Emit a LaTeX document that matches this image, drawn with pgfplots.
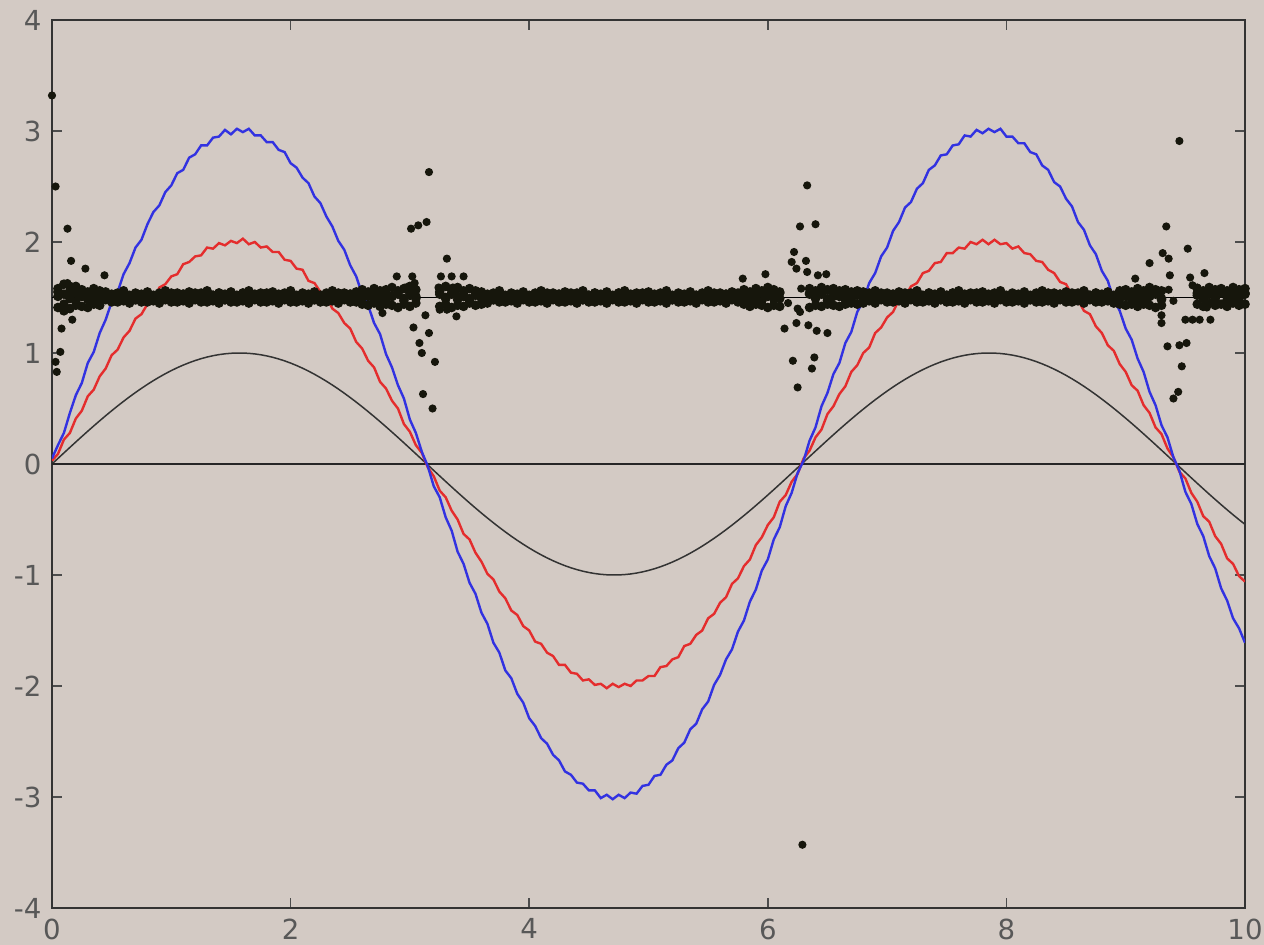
\documentclass[border=0pt]{standalone}
\usepackage{fontspec}
\setmainfont{DejaVu Sans}
\usepackage{pgfplots}
\pgfplotsset{compat=1.18}
\usepackage{pgfplotstable}
\definecolor{bg}{RGB}{211,202,196}
\definecolor{tickgray}{RGB}{88,88,88}
\definecolor{cred}{RGB}{228,45,45}
\definecolor{cblue}{RGB}{50,50,225}
\definecolor{dots}{RGB}{22,22,12}

\pgfplotstableread{
x s r b
0.00 0.0000 0.03 0.05
0.05 0.0500 0.09 0.17
0.10 0.0998 0.22 0.28
0.15 0.1494 0.28 0.46
0.20 0.1987 0.41 0.62
0.25 0.2474 0.48 0.73
0.30 0.2955 0.61 0.91
0.35 0.3429 0.67 1.01
0.40 0.3894 0.79 1.18
0.45 0.4350 0.86 1.30
0.50 0.4794 0.98 1.46
0.55 0.5227 1.03 1.55
0.60 0.5646 1.14 1.71
0.65 0.6052 1.20 1.81
0.70 0.6442 1.31 1.95
0.75 0.6816 1.35 2.02
0.80 0.7174 1.44 2.16
0.85 0.7513 1.48 2.27
0.90 0.7833 1.59 2.33
0.95 0.8134 1.62 2.45
1.00 0.8415 1.69 2.51
1.05 0.8674 1.71 2.62
1.10 0.8912 1.80 2.65
1.15 0.9128 1.82 2.76
1.20 0.9320 1.87 2.79
1.25 0.9490 1.88 2.87
1.30 0.9636 1.95 2.87
1.35 0.9757 1.94 2.94
1.40 0.9854 1.99 2.95
1.45 0.9927 1.97 3.01
1.50 0.9975 2.01 2.97
1.55 0.9998 1.99 3.02
1.60 0.9996 2.03 2.99
1.65 0.9969 1.98 3.02
1.70 0.9917 2.00 2.96
1.75 0.9840 1.95 2.96
1.80 0.9738 1.96 2.90
1.85 0.9613 1.91 2.90
1.90 0.9463 1.91 2.83
1.95 0.9290 1.84 2.81
2.00 0.9093 1.83 2.71
2.05 0.8874 1.76 2.67
2.10 0.8632 1.75 2.58
2.15 0.8369 1.65 2.53
2.20 0.8085 1.63 2.41
2.25 0.7781 1.55 2.35
2.30 0.7457 1.51 2.23
2.35 0.7115 1.40 2.14
2.40 0.6755 1.36 2.01
2.45 0.6378 1.27 1.93
2.50 0.5985 1.22 1.79
2.55 0.5577 1.10 1.69
2.60 0.5155 1.04 1.53
2.65 0.4720 0.93 1.43
2.70 0.4274 0.87 1.27
2.75 0.3817 0.74 1.17
2.80 0.3350 0.68 0.99
2.85 0.2875 0.57 0.87
2.90 0.2392 0.50 0.71
2.95 0.1904 0.36 0.59
3.00 0.1411 0.29 0.40
3.05 0.0915 0.17 0.28
3.10 0.0416 0.10 0.11
3.15 -0.0084 -0.03 -0.02
3.20 -0.0584 -0.11 -0.20
3.25 -0.1082 -0.24 -0.30
3.30 -0.1577 -0.30 -0.48
3.35 -0.2069 -0.42 -0.60
3.40 -0.2555 -0.50 -0.79
3.45 -0.3035 -0.63 -0.90
3.50 -0.3508 -0.68 -1.07
3.55 -0.3971 -0.80 -1.17
3.60 -0.4425 -0.88 -1.34
3.65 -0.4868 -0.99 -1.44
3.70 -0.5298 -1.04 -1.61
3.75 -0.5716 -1.15 -1.70
3.80 -0.6119 -1.21 -1.86
3.85 -0.6507 -1.32 -1.93
3.90 -0.6878 -1.36 -2.07
3.95 -0.7232 -1.46 -2.15
4.00 -0.7568 -1.50 -2.29
4.05 -0.7885 -1.60 -2.36
4.10 -0.8183 -1.62 -2.47
4.15 -0.8460 -1.70 -2.52
4.20 -0.8716 -1.73 -2.62
4.25 -0.8950 -1.81 -2.67
4.30 -0.9162 -1.81 -2.77
4.35 -0.9351 -1.88 -2.80
4.40 -0.9516 -1.89 -2.87
4.45 -0.9658 -1.95 -2.88
4.50 -0.9775 -1.94 -2.94
4.55 -0.9868 -1.99 -2.94
4.60 -0.9937 -1.98 -3.01
4.65 -0.9980 -2.02 -2.98
4.70 -0.9999 -1.98 -3.02
4.75 -0.9993 -2.01 -2.98
4.80 -0.9962 -1.98 -3.01
4.85 -0.9906 -2.00 -2.96
4.90 -0.9825 -1.95 -2.97
4.95 -0.9719 -1.95 -2.90
5.00 -0.9589 -1.91 -2.89
5.05 -0.9435 -1.91 -2.81
5.10 -0.9258 -1.83 -2.80
5.15 -0.9058 -1.82 -2.71
5.20 -0.8835 -1.76 -2.67
5.25 -0.8590 -1.74 -2.56
5.30 -0.8323 -1.64 -2.51
5.35 -0.8036 -1.62 -2.39
5.40 -0.7728 -1.54 -2.34
5.45 -0.7401 -1.50 -2.21
5.50 -0.7055 -1.39 -2.14
5.55 -0.6692 -1.35 -1.99
5.60 -0.6313 -1.25 -1.90
5.65 -0.5917 -1.20 -1.76
5.70 -0.5507 -1.08 -1.67
5.75 -0.5083 -1.03 -1.51
5.80 -0.4646 -0.92 -1.41
5.85 -0.4198 -0.86 -1.24
5.90 -0.3739 -0.73 -1.13
5.95 -0.3271 -0.66 -0.96
6.00 -0.2794 -0.55 -0.86
6.05 -0.2311 -0.48 -0.68
6.10 -0.1822 -0.34 -0.57
6.15 -0.1328 -0.28 -0.38
6.20 -0.0831 -0.16 -0.26
6.25 -0.0332 -0.09 -0.08
6.30 0.0168 0.05 0.03
6.35 0.0667 0.12 0.21
6.40 0.1165 0.24 0.33
6.45 0.1660 0.31 0.52
6.50 0.2151 0.45 0.64
6.55 0.2636 0.52 0.81
6.60 0.3115 0.63 0.91
6.65 0.3586 0.70 1.09
6.70 0.4048 0.83 1.19
6.75 0.4500 0.89 1.37
6.80 0.4941 1.00 1.47
6.85 0.5369 1.05 1.63
6.90 0.5784 1.18 1.72
6.95 0.6185 1.23 1.87
7.00 0.6570 1.32 1.95
7.05 0.6939 1.37 2.10
7.10 0.7290 1.48 2.18
7.15 0.7623 1.51 2.31
7.20 0.7937 1.60 2.36
7.25 0.8231 1.63 2.48
7.30 0.8504 1.72 2.53
7.35 0.8756 1.74 2.65
7.40 0.8987 1.81 2.69
7.45 0.9195 1.82 2.78
7.50 0.9380 1.90 2.79
7.55 0.9541 1.90 2.87
7.60 0.9679 1.95 2.88
7.65 0.9793 1.94 2.96
7.70 0.9882 2.00 2.95
7.75 0.9946 1.98 3.01
7.80 0.9985 2.02 2.98
7.85 0.9999 1.98 3.02
7.90 0.9989 2.02 2.99
7.95 0.9954 1.98 3.02
8.00 0.9894 1.99 2.95
8.05 0.9809 1.94 2.95
8.10 0.9699 1.96 2.89
8.15 0.9565 1.90 2.89
8.20 0.9407 1.89 2.81
8.25 0.9226 1.83 2.79
8.30 0.9022 1.82 2.69
8.35 0.8795 1.75 2.65
8.40 0.8546 1.72 2.54
8.45 0.8276 1.64 2.50
8.50 0.7985 1.62 2.39
8.55 0.7674 1.52 2.32
8.60 0.7344 1.48 2.18
8.65 0.6996 1.38 2.11
8.70 0.6630 1.35 1.97
8.75 0.6247 1.24 1.89
8.80 0.5849 1.18 1.74
8.85 0.5436 1.07 1.65
8.90 0.5010 1.02 1.48
8.95 0.4571 0.90 1.38
9.00 0.4121 0.83 1.22
9.05 0.3661 0.71 1.12
9.10 0.3191 0.66 0.95
9.15 0.2713 0.53 0.83
9.20 0.2229 0.46 0.65
9.25 0.1739 0.33 0.53
9.30 0.1245 0.27 0.35
9.35 0.0747 0.14 0.24
9.40 0.0248 0.06 0.06
9.45 -0.0252 -0.07 -0.06
9.50 -0.0752 -0.13 -0.25
9.55 -0.1249 -0.26 -0.36
9.60 -0.1743 -0.34 -0.54
9.65 -0.2233 -0.47 -0.65
9.70 -0.2718 -0.52 -0.83
9.75 -0.3195 -0.65 -0.94
9.80 -0.3665 -0.72 -1.12
9.85 -0.4125 -0.85 -1.23
9.90 -0.4575 -0.90 -1.39
9.95 -0.5014 -1.01 -1.48
10.00 -0.5440 -1.06 -1.61
}\curves

\pgfplotstableread{
x a b c d
0.05 1.58 1.41 1.55 1.51
0.10 1.62 1.44 1.38 1.53
0.15 1.56 1.40 1.60 1.49
0.20 1.60 1.43 1.47 1.54
0.25 1.57 1.42 1.52 1.51
0.30 1.55 1.41 1.48 1.53
0.35 1.58 1.44 1.51 1.49
0.40 1.56 1.43 1.49 1.54
0.45 1.55 1.48 1.52 1.51
0.50 1.52 1.46 1.50 1.53
0.55 1.54 1.46 1.48 1.49
0.60 1.56 1.47 1.52 1.54
0.65 1.52 1.45 1.50 1.51
0.70 1.54 1.48 1.48 1.53
0.75 1.53 1.46 1.52 1.49
0.80 1.55 1.46 1.50 1.54
0.85 1.52 1.47 1.48 1.51
0.90 1.54 1.45 1.52 1.53
0.95 1.56 1.48 1.50 1.49
1.00 1.52 1.46 1.48 1.54
1.05 1.54 1.46 1.52 1.51
1.10 1.53 1.47 1.50 1.53
1.15 1.55 1.45 1.48 1.49
1.20 1.52 1.48 1.52 1.54
1.25 1.54 1.46 1.50 1.51
1.30 1.56 1.46 1.48 1.53
1.35 1.52 1.47 1.52 1.49
1.40 1.54 1.45 1.50 1.54
1.45 1.53 1.48 1.48 1.51
1.50 1.55 1.46 1.52 1.53
1.55 1.52 1.46 1.50 1.49
1.60 1.54 1.47 1.48 1.54
1.65 1.56 1.45 1.52 1.51
1.70 1.52 1.48 1.50 1.53
1.75 1.54 1.46 1.48 1.49
1.80 1.53 1.46 1.52 1.54
1.85 1.55 1.47 1.50 1.51
1.90 1.52 1.45 1.48 1.53
1.95 1.54 1.48 1.52 1.49
2.00 1.56 1.46 1.50 1.54
2.05 1.52 1.46 1.48 1.51
2.10 1.54 1.47 1.52 1.53
2.15 1.53 1.45 1.50 1.49
2.20 1.55 1.48 1.48 1.54
2.25 1.52 1.46 1.52 1.51
2.30 1.54 1.46 1.50 1.53
2.35 1.56 1.47 1.48 1.49
2.40 1.52 1.45 1.52 1.54
2.45 1.54 1.48 1.50 1.51
2.50 1.53 1.46 1.48 1.53
2.55 1.55 1.46 1.52 1.49
2.60 1.57 1.44 1.50 1.54
2.65 1.55 1.43 1.52 1.51
2.70 1.58 1.45 1.47 1.53
2.75 1.56 1.42 1.53 1.49
2.80 1.57 1.44 1.49 1.54
2.85 1.59 1.43 1.51 1.51
2.90 1.56 1.41 1.54 1.53
2.95 1.58 1.44 1.47 1.49
3.00 1.60 1.42 1.52 1.54
3.05 1.57 1.45 1.49 1.51
3.25 1.58 1.42 1.55 1.53
3.30 1.60 1.44 1.50 1.49
3.35 1.57 1.41 1.53 1.54
3.40 1.59 1.43 1.48 1.51
3.45 1.56 1.42 1.51 1.53
3.50 1.58 1.45 1.47 1.49
3.55 1.56 1.43 1.52 1.54
3.60 1.55 1.44 1.49 1.51
3.65 1.52 1.45 1.50 1.53
3.70 1.54 1.48 1.48 1.49
3.75 1.56 1.46 1.52 1.54
3.80 1.52 1.46 1.50 1.51
3.85 1.54 1.47 1.48 1.53
3.90 1.53 1.45 1.52 1.49
3.95 1.55 1.48 1.50 1.54
4.00 1.52 1.46 1.48 1.51
4.05 1.54 1.46 1.52 1.53
4.10 1.56 1.47 1.50 1.49
4.15 1.52 1.45 1.48 1.54
4.20 1.54 1.48 1.52 1.51
4.25 1.53 1.46 1.50 1.53
4.30 1.55 1.46 1.48 1.49
4.35 1.52 1.47 1.52 1.54
4.40 1.54 1.45 1.50 1.51
4.45 1.56 1.48 1.48 1.53
4.50 1.52 1.46 1.52 1.49
4.55 1.54 1.46 1.50 1.54
4.60 1.53 1.47 1.48 1.51
4.65 1.55 1.45 1.52 1.53
4.70 1.52 1.48 1.50 1.49
4.75 1.54 1.46 1.48 1.54
4.80 1.56 1.46 1.52 1.51
4.85 1.52 1.47 1.50 1.53
4.90 1.54 1.45 1.48 1.49
4.95 1.53 1.48 1.52 1.54
5.00 1.55 1.46 1.50 1.51
5.05 1.52 1.46 1.48 1.53
5.10 1.54 1.47 1.52 1.49
5.15 1.56 1.45 1.50 1.54
5.20 1.52 1.48 1.48 1.51
5.25 1.54 1.46 1.52 1.53
5.30 1.53 1.46 1.50 1.49
5.35 1.55 1.47 1.48 1.54
5.40 1.52 1.45 1.52 1.51
5.45 1.54 1.48 1.50 1.53
5.50 1.56 1.46 1.48 1.49
5.55 1.52 1.46 1.52 1.54
5.60 1.54 1.47 1.50 1.51
5.65 1.53 1.45 1.48 1.53
5.70 1.55 1.48 1.52 1.49
5.75 1.52 1.46 1.50 1.54
5.80 1.57 1.44 1.51 1.51
5.85 1.55 1.42 1.48 1.53
5.90 1.58 1.44 1.53 1.49
5.95 1.56 1.43 1.47 1.54
6.00 1.59 1.41 1.52 1.51
6.05 1.57 1.43 1.49 1.53
6.10 1.55 1.42 1.54 1.49
6.35 1.58 1.41 1.53 1.54
6.40 1.56 1.43 1.49 1.51
6.45 1.59 1.42 1.55 1.53
6.50 1.57 1.44 1.47 1.49
6.55 1.58 1.43 1.51 1.54
6.60 1.56 1.42 1.52 1.51
6.65 1.57 1.44 1.48 1.53
6.70 1.55 1.45 1.50 1.49
6.75 1.56 1.44 1.52 1.54
6.80 1.55 1.45 1.49 1.51
6.85 1.54 1.47 1.48 1.53
6.90 1.56 1.45 1.52 1.49
6.95 1.52 1.48 1.50 1.54
7.00 1.54 1.46 1.48 1.51
7.05 1.53 1.46 1.52 1.53
7.10 1.55 1.47 1.50 1.49
7.15 1.52 1.45 1.48 1.54
7.20 1.54 1.48 1.52 1.51
7.25 1.56 1.46 1.50 1.53
7.30 1.52 1.46 1.48 1.49
7.35 1.54 1.47 1.52 1.54
7.40 1.53 1.45 1.50 1.51
7.45 1.55 1.48 1.48 1.53
7.50 1.52 1.46 1.52 1.49
7.55 1.54 1.46 1.50 1.54
7.60 1.56 1.47 1.48 1.51
7.65 1.52 1.45 1.52 1.53
7.70 1.54 1.48 1.50 1.49
7.75 1.53 1.46 1.48 1.54
7.80 1.55 1.46 1.52 1.51
7.85 1.52 1.47 1.50 1.53
7.90 1.54 1.45 1.48 1.49
7.95 1.56 1.48 1.52 1.54
8.00 1.52 1.46 1.50 1.51
8.05 1.54 1.46 1.48 1.53
8.10 1.53 1.47 1.52 1.49
8.15 1.55 1.45 1.50 1.54
8.20 1.52 1.48 1.48 1.51
8.25 1.54 1.46 1.52 1.53
8.30 1.56 1.46 1.50 1.49
8.35 1.52 1.47 1.48 1.54
8.40 1.54 1.45 1.52 1.51
8.45 1.53 1.48 1.50 1.53
8.50 1.55 1.46 1.48 1.49
8.55 1.52 1.46 1.52 1.54
8.60 1.54 1.47 1.50 1.51
8.65 1.56 1.45 1.48 1.53
8.70 1.52 1.48 1.52 1.49
8.75 1.54 1.46 1.50 1.54
8.80 1.53 1.46 1.48 1.51
8.85 1.55 1.47 1.52 1.53
8.90 1.52 1.45 1.50 1.49
8.95 1.56 1.44 1.49 1.54
9.00 1.57 1.43 1.52 1.51
9.05 1.55 1.44 1.48 1.53
9.10 1.58 1.42 1.53 1.49
9.15 1.56 1.44 1.47 1.54
9.20 1.59 1.43 1.51 1.51
9.25 1.57 1.41 1.54 1.53
9.30 1.56 1.43 1.48 1.49
9.60 1.58 1.44 1.52 1.54
9.65 1.56 1.42 1.49 1.51
9.70 1.59 1.45 1.53 1.53
9.75 1.57 1.43 1.50 1.49
9.80 1.58 1.44 1.55 1.54
9.85 1.56 1.42 1.48 1.51
9.90 1.59 1.45 1.52 1.53
9.95 1.57 1.43 1.50 1.49
10.00 1.58 1.44 1.53 1.54
}\band

\pgfplotstableread{
x y
0.00 3.32
0.03 2.50
0.13 2.12
0.16 1.83
0.28 1.76
0.44 1.70
0.13 1.63
0.17 1.30
0.08 1.22
0.07 1.01
0.03 0.92
0.04 0.83
3.16 2.63
3.01 2.12
3.07 2.15
3.14 2.18
3.31 1.85
2.89 1.69
3.02 1.69
3.26 1.69
3.35 1.69
3.45 1.69
2.96 1.59
3.04 1.63
3.24 1.59
3.36 1.59
2.77 1.36
3.13 1.34
3.25 1.39
3.31 1.39
3.39 1.33
3.03 1.23
3.16 1.18
3.08 1.09
3.10 1.00
3.21 0.92
3.11 0.63
3.19 0.50
6.33 2.51
6.27 2.14
6.40 2.16
6.22 1.91
6.20 1.82
6.32 1.83
6.24 1.76
6.33 1.73
6.42 1.70
6.49 1.71
5.79 1.67
5.98 1.71
6.28 1.58
6.25 1.40
6.17 1.45
6.27 1.37
6.24 1.27
6.34 1.25
6.41 1.20
6.50 1.18
6.14 1.22
6.21 0.93
6.39 0.96
6.37 0.86
6.25 0.69
6.29 -3.43
9.45 2.91
9.34 2.14
9.52 1.94
9.31 1.90
9.36 1.85
9.20 1.81
9.66 1.72
9.08 1.67
9.37 1.70
9.54 1.68
9.56 1.61
9.60 1.59
9.22 1.55
9.36 1.57
9.40 1.47
9.68 1.41
9.30 1.34
9.30 1.27
9.50 1.30
9.56 1.30
9.62 1.30
9.71 1.30
9.35 1.06
9.45 1.07
9.51 1.09
9.47 0.88
9.44 0.65
9.40 0.59
}\outliers

\begin{document}
\begin{tikzpicture}
\fill[bg] (-17.33pt,-12.33pt) rectangle (404pt,302.67pt);
\useasboundingbox (-17.33pt,-12.33pt) rectangle (404pt,302.67pt);
\begin{axis}[
  at={(0pt,0pt)}, anchor=south west,
  scale only axis, width=397.67pt, height=296pt,
  xmin=0, xmax=10, ymin=-4, ymax=4,
  xtick={0,2,4,6,8,10}, ytick={-4,-3,-2,-1,0,1,2,3,4},
  axis background/.style={fill=bg},
  axis line style={draw=black!80, line width=0.7pt},
  tick style={draw=black!70, line width=0.5pt},
  major tick length=3.3pt,
  tick label style={font=\fontsize{9.2}{10}\selectfont, text=tickgray},
  /pgf/number format/assume math mode=true,
  clip=true,
]
\addplot[black!80, line width=0.5pt] table[x=x, y=s] {\curves};
\addplot[black!85, line width=0.7pt] coordinates {(0,0) (10,0)};
\addplot[black, line width=0.4pt] coordinates {(0,1.5) (10,1.5)};
\addplot[cred, line width=0.8pt] table[x=x, y=r] {\curves};
\addplot[cblue, line width=0.8pt] table[x=x, y=b] {\curves};
\addplot[only marks, mark=*, mark size=1.4pt, draw=dots, fill=dots] table[x=x, y=a] {\band};
\addplot[only marks, mark=*, mark size=1.4pt, draw=dots, fill=dots] table[x=x, y=b] {\band};
\addplot[only marks, mark=*, mark size=1.4pt, draw=dots, fill=dots] table[x=x, y=c] {\band};
\addplot[only marks, mark=*, mark size=1.4pt, draw=dots, fill=dots] table[x=x, y=d] {\band};
\addplot[only marks, mark=*, mark size=1.15pt, draw=dots, fill=dots] table[x=x, y=y] {\outliers};
\end{axis}
\end{tikzpicture}
\end{document}
